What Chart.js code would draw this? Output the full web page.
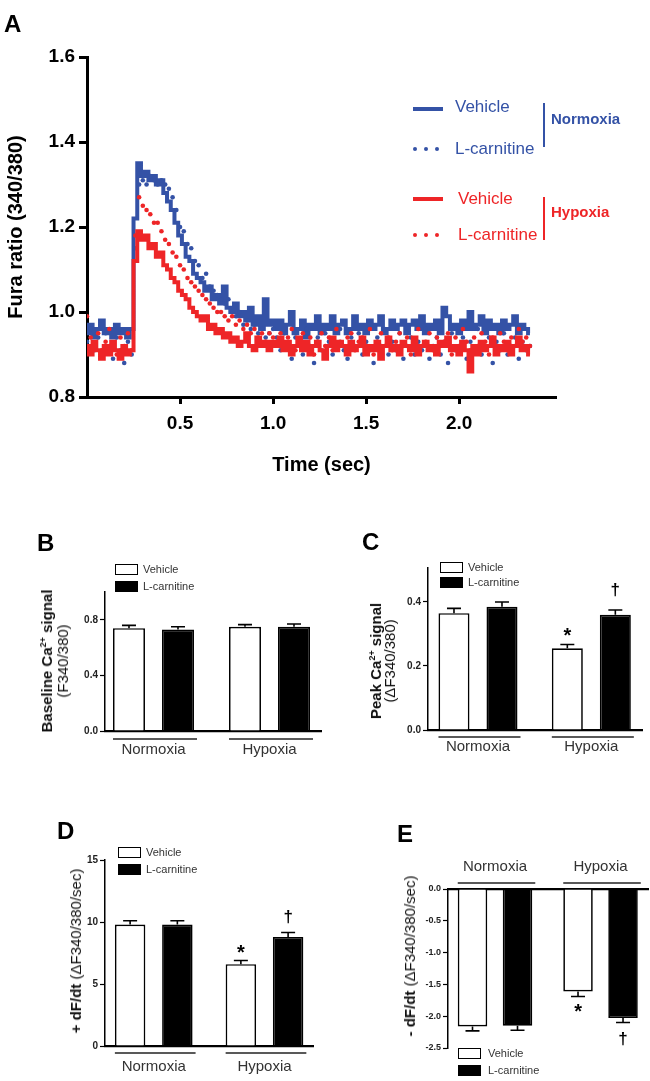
<!DOCTYPE html>
<html><head><meta charset="utf-8">
<script src="https://cdn.jsdelivr.net/npm/chart.js@4.4.1/dist/chart.umd.min.js"></script>
<style>
html,body{margin:0;padding:0;background:#fff}
body{position:relative;width:650px;height:1081px;overflow:hidden;font-family:"Liberation Sans",Arial,Helvetica,sans-serif}
canvas{position:absolute}
.t{position:absolute;white-space:nowrap}
.letter{position:absolute;font-weight:bold;font-size:24px;line-height:24px;color:#000}
.rot{position:absolute;white-space:nowrap;transform:translate(-50%,-50%) rotate(-90deg);text-align:center;color:#111}
.rot sup{font-size:9px;line-height:0;vertical-align:6px}
.box{position:absolute;width:23px;height:11px;border:1.5px solid #000;box-sizing:border-box;background:#fff}
.box.f{background:#000}
.lt{position:absolute;font-size:11px;line-height:12px;color:#333;white-space:nowrap}
.dot{position:absolute;width:4px;height:4px;border-radius:50%}
</style></head>
<body>
<canvas id="cA" width="650" height="481" style="left:0;top:0"></canvas>
<canvas id="cB" width="325" height="232" style="left:0;top:540px"></canvas>
<canvas id="cC" width="320" height="232" style="left:330px;top:540px"></canvas>
<canvas id="cD" width="325" height="241" style="left:0;top:840px"></canvas>
<canvas id="cE" width="320" height="236" style="left:330px;top:845px"></canvas>

<div class="letter" style="left:4px;top:12px">A</div>
<div class="letter" style="left:37px;top:531px">B</div>
<div class="letter" style="left:362px;top:530px">C</div>
<div class="letter" style="left:57px;top:819px">D</div>
<div class="letter" style="left:397px;top:822px">E</div>

<!-- Panel A legend -->
<div class="t" style="left:413px;top:107px;width:30px;height:4px;background:#3452a6"></div>
<div class="t" style="left:455px;top:97px;font-size:17px;line-height:20px;color:#3452a6">Vehicle</div>
<div class="dot" style="left:413px;top:147px;background:#3452a6"></div>
<div class="dot" style="left:424px;top:147px;background:#3452a6"></div>
<div class="dot" style="left:435px;top:147px;background:#3452a6"></div>
<div class="t" style="left:455px;top:139px;font-size:17px;line-height:20px;color:#3452a6">L-carnitine</div>
<div class="t" style="left:543px;top:103px;width:1.5px;height:44px;background:#3452a6"></div>
<div class="t" style="left:551px;top:110px;font-size:15px;line-height:18px;font-weight:bold;color:#3452a6">Normoxia</div>

<div class="t" style="left:413px;top:197px;width:30px;height:4px;background:#ee2527"></div>
<div class="t" style="left:458px;top:189px;font-size:17px;line-height:20px;color:#ee2527">Vehicle</div>
<div class="dot" style="left:413px;top:233px;background:#ee2527"></div>
<div class="dot" style="left:424px;top:233px;background:#ee2527"></div>
<div class="dot" style="left:435px;top:233px;background:#ee2527"></div>
<div class="t" style="left:458px;top:225px;font-size:17px;line-height:20px;color:#ee2527">L-carnitine</div>
<div class="t" style="left:543px;top:197px;width:1.5px;height:43px;background:#ee2527"></div>
<div class="t" style="left:551px;top:203px;font-size:15px;line-height:18px;font-weight:bold;color:#ee2527">Hypoxia</div>

<!-- Bar legends -->
<div class="box" style="left:115px;top:564px"></div><div class="lt" style="left:143px;top:563px">Vehicle</div>
<div class="box f" style="left:115px;top:581px"></div><div class="lt" style="left:143px;top:580px">L-carnitine</div>
<div class="box" style="left:440px;top:562px"></div><div class="lt" style="left:468px;top:561px">Vehicle</div>
<div class="box f" style="left:440px;top:577px"></div><div class="lt" style="left:468px;top:576px">L-carnitine</div>
<div class="box" style="left:118px;top:847px"></div><div class="lt" style="left:146px;top:846px">Vehicle</div>
<div class="box f" style="left:118px;top:864px"></div><div class="lt" style="left:146px;top:863px">L-carnitine</div>
<div class="box" style="left:458px;top:1048px"></div><div class="lt" style="left:488px;top:1047px">Vehicle</div>
<div class="box f" style="left:458px;top:1065px"></div><div class="lt" style="left:488px;top:1064px">L-carnitine</div>

<!-- Bar y titles -->
<div class="rot" style="left:55px;top:661px;font-size:15px;line-height:16px"><b>Baseline Ca<sup>2+</sup> signal</b><br>(F340/380)</div>
<div class="rot" style="left:383px;top:661px;font-size:15px;line-height:14px"><b>Peak Ca<sup>2+</sup> signal</b><br>(ΔF340/380)</div>
<div class="rot" style="left:76px;top:951px;font-size:15px;line-height:16px"><b>+ dF/dt</b> (ΔF340/380/sec)</div>
<div class="rot" style="left:410px;top:956px;font-size:15px;line-height:16px"><b>- dF/dt</b> (ΔF340/380/sec)</div>

<script>
const FONT = '"Liberation Sans", Arial, Helvetica, sans-serif';
const BLUE = '#3452a6', RED = '#ee2527';

// ---- Panel A: Fura ratio traces (sampled every 0.02 s) ----
const timeStep = 0.02;
const timeTicks = [0.5, 1.0, 1.5, 2.0];
const ratioTicks = [0.8, 1.0, 1.2, 1.4, 1.6];
const normoxiaVehicle = [
 0.95,0.97,0.94,0.96,0.98,0.95,0.96,0.94,0.97,0.95,
 0.96,0.94,0.96,1.22,1.35,1.32,1.33,1.31,1.32,1.30,
 1.31,1.28,1.26,1.24,1.21,1.18,1.16,1.13,1.12,1.09,
 1.08,1.07,1.05,1.06,1.03,1.04,1.02,1.06,1.01,1.00,
 1.02,0.99,1.00,0.98,1.01,0.97,0.99,0.96,1.03,0.97,
 0.98,0.96,0.98,0.95,0.97,1.00,0.95,0.96,0.98,0.94,
 0.97,0.96,0.99,0.95,0.97,0.96,0.99,0.95,0.97,0.98,
 0.95,0.96,0.99,0.96,0.97,0.95,0.98,0.96,0.97,0.99,
 0.95,0.96,0.98,0.96,0.97,0.98,0.95,0.97,0.98,0.96,
 0.99,0.95,0.97,0.96,0.98,0.95,1.01,0.99,0.96,0.97,
 0.95,0.98,0.96,1.00,0.96,0.97,0.99,0.95,0.98,0.96,
 0.97,0.95,0.98,0.96,0.97,0.99,0.95,0.97,0.96,0.95];
const normoxiaCarnitine = [
 0.93,0.96,0.91,0.94,0.90,0.95,0.92,0.89,0.94,0.91,
 0.88,0.93,0.90,1.15,1.30,1.31,1.30,1.32,1.31,1.30,
 1.31,1.30,1.29,1.27,1.24,1.20,1.19,1.16,1.15,1.12,
 1.11,1.08,1.09,1.06,1.05,1.04,1.03,1.02,1.03,1.00,
 0.99,1.00,0.97,0.98,0.96,0.97,0.95,0.96,0.94,0.95,
 0.96,0.94,0.91,0.95,0.92,0.89,0.94,0.93,0.90,0.96,
 0.92,0.88,0.94,0.91,0.95,0.93,0.90,0.92,0.96,0.91,
 0.89,0.94,0.92,0.95,0.90,0.93,0.91,0.88,0.94,0.92,
 0.96,0.90,0.93,0.91,0.95,0.89,0.92,0.94,0.90,0.93,
 0.91,0.96,0.89,0.92,0.94,0.90,0.93,0.88,0.95,0.91,
 0.92,0.94,0.89,0.93,0.91,0.96,0.90,0.92,0.94,0.88,
 0.93,0.91,0.95,0.90,0.92,0.94,0.89,0.93,0.91,0.92];
const hypoxiaVehicle = [
 0.92,0.90,0.93,0.91,0.89,0.92,0.90,0.93,0.91,0.89,
 0.92,0.90,0.91,1.12,1.19,1.17,1.18,1.15,1.16,1.13,
 1.14,1.11,1.10,1.08,1.07,1.05,1.04,1.03,1.01,1.00,
 0.99,0.98,0.99,0.96,0.97,0.95,0.96,0.94,0.95,0.93,
 0.94,0.92,0.93,0.95,0.92,0.91,0.94,0.92,0.93,0.91,
 0.93,0.92,0.94,0.91,0.93,0.90,0.92,0.94,0.91,0.93,
 0.90,0.92,0.93,0.91,0.89,0.92,0.94,0.91,0.93,0.92,
 0.90,0.93,0.91,0.92,0.94,0.90,0.92,0.91,0.93,0.89,
 0.92,0.94,0.91,0.92,0.90,0.93,0.92,0.91,0.94,0.90,
 0.92,0.93,0.91,0.92,0.90,0.93,0.92,0.94,0.91,0.92,
 0.90,0.93,0.91,0.86,0.92,0.90,0.93,0.91,0.92,0.94,
 0.90,0.92,0.91,0.93,0.90,0.92,0.94,0.91,0.92,0.90];
const hypoxiaCarnitine = [
 0.99,0.94,0.92,0.95,0.91,0.93,0.96,0.92,0.90,0.94,
 0.92,0.95,0.91,1.18,1.27,1.25,1.24,1.23,1.21,1.21,
 1.19,1.17,1.16,1.14,1.13,1.11,1.10,1.08,1.07,1.06,
 1.05,1.04,1.03,1.02,1.01,1.00,1.00,0.99,0.98,0.99,
 0.97,0.98,0.96,0.97,0.95,0.96,0.94,0.95,0.93,0.95,
 0.94,0.93,0.95,0.92,0.94,0.96,0.91,0.93,0.95,0.92,
 0.94,0.90,0.93,0.95,0.92,0.94,0.91,0.96,0.93,0.92,
 0.94,0.95,0.91,0.93,0.94,0.92,0.96,0.90,0.93,0.95,
 0.92,0.94,0.91,0.93,0.95,0.92,0.94,0.90,0.93,0.96,
 0.92,0.93,0.95,0.91,0.94,0.92,0.93,0.95,0.90,0.94,
 0.92,0.96,0.93,0.91,0.94,0.92,0.95,0.93,0.90,0.94,
 0.92,0.95,0.93,0.91,0.94,0.92,0.96,0.93,0.94,0.92];

// ---- Panels B-E: bar data ----
const groups = ['Normoxia', 'Hypoxia'];
const seriesNames = ['Vehicle', 'L-carnitine'];
const baselineVehicle = [0.74, 0.75];
const baselineVehicleErr = [0.02, 0.015];
const baselineCarnitine = [0.73, 0.75];
const baselineCarnitineErr = [0.02, 0.02];
const baselineTicks = [0.0, 0.4, 0.8];
const peakVehicle = [0.365, 0.255];
const peakVehicleErr = [0.015, 0.012];
const peakCarnitine = [0.385, 0.36];
const peakCarnitineErr = [0.015, 0.015];
const peakTicks = [0.0, 0.2, 0.4];
const riseVehicle = [9.8, 6.6];
const riseVehicleErr = [0.3, 0.3];
const riseCarnitine = [9.8, 8.8];
const riseCarnitineErr = [0.3, 0.35];
const riseTicks = [0, 5, 10, 15];
const decayVehicle = [-2.16, -1.61];
const decayVehicleErr = [0.07, 0.08];
const decayCarnitine = [-2.15, -2.03];
const decayCarnitineErr = [0.07, 0.07];
const decayTicks = [0.0, -0.5, -1.0, -1.5, -2.0, -2.5];

function toPoints(arr) { return arr.map((v, i) => ({ x: Math.round(i * timeStep * 100) / 100, y: v })); }

new Chart(document.getElementById('cA'), {
  type: 'line',
  data: { datasets: [
    { label: 'Normoxia Vehicle', data: toPoints(normoxiaVehicle), borderColor: BLUE, borderWidth: 4, pointRadius: 0, stepped: 'middle', order: 4 },
    { label: 'Normoxia L-carnitine', data: toPoints(normoxiaCarnitine), showLine: false, pointRadius: 2.3, pointBackgroundColor: BLUE, pointBorderWidth: 0, order: 3 },
    { label: 'Hypoxia L-carnitine', data: toPoints(hypoxiaCarnitine), showLine: false, pointRadius: 2.3, pointBackgroundColor: RED, pointBorderWidth: 0, order: 2 },
    { label: 'Hypoxia Vehicle', data: toPoints(hypoxiaVehicle), borderColor: RED, borderWidth: 4, pointRadius: 0, stepped: 'middle', order: 1 }
  ]},
  options: {
    responsive: false, animation: false, events: [],
    layout: { padding: { top: 57, right: 94, left: 0, bottom: 0 } },
    plugins: { legend: { display: false }, tooltip: { enabled: false } },
    scales: {
      x: { type: 'linear', min: 0, max: 2.52,
        afterBuildTicks: s => { s.ticks = timeTicks.map(v => ({ value: v })); },
        grid: { drawOnChartArea: false, drawTicks: true, tickLength: 7, tickWidth: 3, tickColor: '#000' },
        border: { display: true, color: '#000', width: 3 },
        ticks: { font: { family: FONT, size: 19, weight: 'bold' }, color: '#000', padding: 8, maxRotation: 0, autoSkip: false, callback: v => Number(v).toFixed(1) },
        title: { display: true, text: 'Time (sec)', font: { family: FONT, size: 20, weight: 'bold' }, color: '#000', padding: { top: 4, bottom: 4 } },
        afterFit: s => { s.height = 84; } },
      y: { min: 0.8, max: 1.6,
        afterBuildTicks: s => { s.ticks = ratioTicks.map(v => ({ value: v })); },
        grid: { drawOnChartArea: false, drawTicks: true, tickLength: 8, tickWidth: 3, tickColor: '#000' },
        border: { display: true, color: '#000', width: 3 },
        ticks: { font: { family: FONT, size: 19, weight: 'bold' }, color: '#000', padding: 4, callback: v => Number(v).toFixed(1) },
        title: { display: true, text: 'Fura ratio (340/380)', font: { family: FONT, size: 20, weight: 'bold' }, color: '#000', padding: { top: 4, bottom: 4 } },
        afterFit: s => { s.width = 87; } }
    }
  }
});

const extrasById = {};
function drawMark(ctx, text, cx, cy, size) {
  ctx.font = 'bold ' + size + 'px ' + FONT;
  ctx.textAlign = 'center'; ctx.textBaseline = 'alphabetic';
  const m = ctx.measureText(text);
  const base = cy + (m.actualBoundingBoxAscent - m.actualBoundingBoxDescent) / 2;
  ctx.fillStyle = '#000';
  ctx.fillText(text, cx, base);
}
const barExtras = {
  id: 'barExtras',
  afterDatasetsDraw(chart) {
    const o = extrasById[chart.canvas.id];
    if (!o) return;
    const { ctx } = chart; const x = chart.scales.x, y = chart.scales.y;
    ctx.save();
    ctx.strokeStyle = '#000'; ctx.lineWidth = 1.6;
    chart.data.datasets.forEach((ds, di) => {
      const meta = chart.getDatasetMeta(di);
      meta.data.forEach((bar, i) => {
        const v = ds.data[i].y, e = o.errs[di][i];
        const yEnd = y.getPixelForValue(v + Math.sign(v) * e);
        ctx.beginPath();
        ctx.moveTo(bar.x, bar.y); ctx.lineTo(bar.x, yEnd);
        ctx.moveTo(bar.x - 7, yEnd); ctx.lineTo(bar.x + 7, yEnd);
        ctx.stroke();
      });
    });
    // group underlines
    const m0 = chart.getDatasetMeta(0), m1 = chart.getDatasetMeta(1);
    const ly = o.top ? x.bottom - o.lineGap : x.top + o.lineGap;
    ctx.lineWidth = 1.3; ctx.strokeStyle = '#222';
    groups.forEach((g, i) => {
      const b0 = m0.data[i], b1 = m1.data[i];
      ctx.beginPath();
      ctx.moveTo(b0.x - b0.width / 2, ly);
      ctx.lineTo(b1.x + b1.width / 2 + 3, ly);
      ctx.stroke();
    });
    // significance marks
    o.marks.forEach(mk => {
      const bar = chart.getDatasetMeta(mk.ds).data[mk.idx];
      const v = chart.data.datasets[mk.ds].data[mk.idx].y;
      const s = Math.sign(v);
      const tip = y.getPixelForValue(v + s * o.errs[mk.ds][mk.idx]);
      drawMark(ctx, mk.text, bar.x, tip - s * mk.gap, mk.size);
    });
    ctx.restore();
  }
};

function makeBar(id, o) {
  extrasById[id] = o;
  const el = document.getElementById(id);
  const cl = o.canvas.left, ct = o.canvas.top, cw = el.width, ch = el.height;
  const top = !!o.top;
  const pts = arr => arr.map((v, i) => ({ x: i, y: v }));
  new Chart(el, {
    type: 'bar',
    data: { datasets: [
      { label: seriesNames[0], data: pts(o.veh), backgroundColor: '#fff', borderColor: '#000', borderWidth: 1.7 },
      { label: seriesNames[1], data: pts(o.lc), backgroundColor: '#000', borderColor: '#000', borderWidth: 1.7 }
    ]},
    options: {
      responsive: false, animation: false, events: [],
      layout: { padding: { left: 0, right: cl + cw - o.area.right, top: top ? 0 : o.area.top - ct, bottom: top ? ct + ch - o.area.bottom : 0 } },
      plugins: { legend: { display: false }, tooltip: { enabled: false } },
      datasets: { bar: { categoryPercentage: o.catPct, barPercentage: o.barPct } },
      scales: {
        x: { type: 'linear', position: top ? 'top' : 'bottom', min: o.xMin, max: o.xMax, offset: false,
          afterBuildTicks: s => { s.ticks = groups.map((g, i) => ({ value: i })); },
          grid: { display: false, drawTicks: false },
          border: { display: true, color: '#000', width: 2.2 },
          ticks: { font: { family: FONT, size: 15 }, color: '#333', padding: o.labelPad, maxRotation: 0, autoSkip: false, callback: v => groups[v] },
          afterFit: s => { s.height = top ? o.area.top - ct : ct + ch - o.area.bottom; } },
        y: { min: o.min, max: o.max,
          afterBuildTicks: s => { s.ticks = o.ticks.map(v => ({ value: v })); },
          grid: { drawOnChartArea: false, drawTicks: true, tickLength: 5, tickWidth: 1.2, tickColor: '#000' },
          border: { display: true, color: '#000', width: 1.5 },
          ticks: { font: { family: FONT, size: o.tickSize || 10, weight: 'bold' }, color: '#222', padding: 2, callback: v => o.fmt(v) },
          afterFit: s => { s.width = o.area.left - cl; } }
      }
    },
    plugins: [barExtras]
  });
}

makeBar('cB', { canvas: { left: 0, top: 540 }, area: { left: 105, right: 321, top: 592, bottom: 731 },
  xMin: -0.418, xMax: 1.444, catPct: 0.845, barPct: 0.653,
  veh: baselineVehicle, lc: baselineCarnitine, errs: [baselineVehicleErr, baselineCarnitineErr],
  min: 0, max: 1.0, ticks: baselineTicks, fmt: v => v.toFixed(1), labelPad: 10, lineGap: 8, marks: [] });
makeBar('cC', { canvas: { left: 330, top: 540 }, area: { left: 428, right: 642, top: 568, bottom: 730 },
  xMin: -0.441, xMax: 1.447, catPct: 0.847, barPct: 0.646,
  veh: peakVehicle, lc: peakCarnitine, errs: [peakVehicleErr, peakCarnitineErr],
  min: 0, max: 0.506, ticks: peakTicks, fmt: v => v.toFixed(1), labelPad: 8, lineGap: 7,
  marks: [{ ds: 0, idx: 1, text: '*', gap: 13, size: 20 }, { ds: 1, idx: 1, text: '†', gap: 20, size: 17 }] });
makeBar('cD', { canvas: { left: 0, top: 840 }, area: { left: 105, right: 313, top: 860, bottom: 1046 },
  xMin: -0.44, xMax: 1.438, catPct: 0.853, barPct: 0.645,
  veh: riseVehicle, lc: riseCarnitine, errs: [riseVehicleErr, riseCarnitineErr],
  min: 0, max: 15, ticks: riseTicks, fmt: v => String(v), labelPad: 12, lineGap: 7,
  marks: [{ ds: 0, idx: 1, text: '*', gap: 11, size: 20 }, { ds: 1, idx: 1, text: '†', gap: 16, size: 17 }] });
makeBar('cE', { canvas: { left: 330, top: 845 }, area: { left: 448, right: 648, top: 889, bottom: 1048 }, top: true,
  xMin: -0.4455, xMax: 1.45, catPct: 0.853, barPct: 0.656,
  veh: decayVehicle, lc: decayCarnitine, errs: [decayVehicleErr, decayCarnitineErr],
  min: -2.5, max: 0, ticks: decayTicks, fmt: v => v.toFixed(1), labelPad: 13, lineGap: 6, tickSize: 9,
  marks: [{ ds: 0, idx: 1, text: '*', gap: 12, size: 20 }, { ds: 1, idx: 1, text: '†', gap: 16, size: 17 }] });
</script>
</body></html>
